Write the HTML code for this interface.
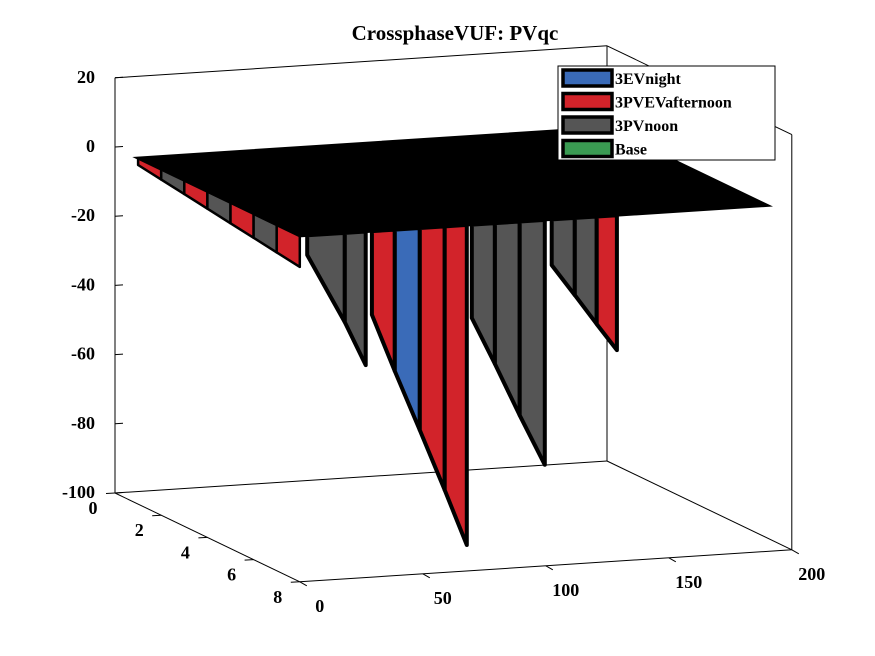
<!DOCTYPE html>
<html><head><meta charset="utf-8"><style>
html,body{margin:0;padding:0;background:#fff;}
svg{display:block;font-family:"Liberation Serif",serif;font-weight:bold;}
</style></head><body>
<svg id="chart" width="875" height="656" viewBox="0 0 875 656" xmlns="http://www.w3.org/2000/svg">
<text x="455" y="40" font-size="21" text-anchor="middle">CrossphaseVUF: PVqc</text>
<g id="box" stroke="#000" stroke-width="1" fill="none"></g>
<g id="ticks" font-size="18"></g>
<g id="marks"></g>
<g id="legend"></g>
</svg>
<script>
// ---- data ----
const zTicks = [20, 0, -20, -40, -60, -80, -100];
const xTicks = [0, 50, 100, 150, 200];
const yTicks = [0, 2, 4, 6, 8];
const seriesNames = ["3EVnight", "3PVEVafternoon", "3PVnoon", "Base"];
const seriesColors = ["#3a6bb8", "#d2232a", "#555555", "#3a9a52"];
const dipAX = [3, 18.3, 26.8];
const dipAZ = [-5.7, -25.8, -38.6];
const dipAC = [2, 2];
const dipBX = [29.3, 38.6, 48.8, 58.9, 67.9];
const dipBZ = [-24.2, -40.9, -58.4, -76.2, -92.5];
const dipBC = [1, 0, 1, 1];
const dipCX = [69.9, 79.3, 89.4, 99.6];
const dipCZ = [-27, -40.7, -56, -70.8];
const dipCC = [2, 2, 2];
const dipDX = [102.4, 111.8, 120.7, 128.9];
const dipDZ = [-13.2, -22.3, -31.1, -39];
const dipDC = [2, 2, 1];
const sideY = [1, 2, 3, 4, 5, 6, 7, 8];
const sideZ = [0, -1, -2, -3, -4, -5, -6, -7];
const sideC = [1, 2, 1, 2, 1, 2, 1];
const planeX = [0, 190];
const planeY = [1, 8];

// ---- projection ----
function P(x, y, z) {
  return [115 + 2.46 * x + 23.1 * y, 493 - 0.16 * x + 11.1 * y - 3.46 * (z + 100)];
}
const NS = "http://www.w3.org/2000/svg";
function mk(tag, attrs, parent) {
  const e = document.createElementNS(NS, tag);
  for (const k in attrs) e.setAttribute(k, attrs[k]);
  parent.appendChild(e);
  return e;
}
function pts(arr) { return arr.map(p => p[0].toFixed(1) + "," + p[1].toFixed(1)).join(" "); }

// box
const box = document.getElementById("box");
const Xmax = 200, Ymax = 8, Zmin = -100, Zmax = 20;
const edges = [
  [[0,0,Zmin],[0,0,Zmax]], [[0,0,Zmax],[Xmax,0,Zmax]], [[Xmax,0,Zmax],[Xmax,0,Zmin]],
  [[0,0,Zmin],[Xmax,0,Zmin]], [[Xmax,0,Zmin],[Xmax,Ymax,Zmin]], [[Xmax,0,Zmax],[Xmax,Ymax,Zmax]],
  [[Xmax,Ymax,Zmax],[Xmax,Ymax,Zmin]], [[0,0,Zmin],[0,Ymax,Zmin]], [[0,Ymax,Zmin],[Xmax,Ymax,Zmin]]
];
edges.forEach(e => {
  const a = P(...e[0]), b = P(...e[1]);
  const l = mk("line", {x1:a[0], y1:a[1], x2:b[0], y2:b[1]}, box);
  
  
});

// ticks
const tk = document.getElementById("ticks");
zTicks.forEach(v => {
  const p = P(0, 0, v);
  const l = mk("line", {x1:p[0], y1:p[1], x2:p[0]+8, y2:p[1]-0.5, stroke:"#000"}, tk);
  
  
  const t = mk("text", {x:p[0]-20, y:p[1]+5, "text-anchor":"end"}, tk);
  t.textContent = v;
  
  
});
xTicks.forEach(v => {
  const p = P(v, Ymax, Zmin);
  const l = mk("line", {x1:p[0], y1:p[1], x2:p[0]+7, y2:p[1]+4, stroke:"#000"}, tk);
  
  
  const t = mk("text", {x:p[0]+20, y:p[1]+30, "text-anchor":"middle"}, tk);
  t.textContent = v;
  
  
});
yTicks.forEach(v => {
  const p = P(0, v, Zmin);
  const l = mk("line", {x1:p[0], y1:p[1], x2:p[0]-9, y2:p[1]+0.5, stroke:"#000"}, tk);
  
  
  const t = mk("text", {x:p[0]-22, y:p[1]+21, "text-anchor":"middle"}, tk);
  t.textContent = v;
  
  
});

// surface
const mg = document.getElementById("marks");
// side band under plane left edge
for (let i = 0; i < sideY.length - 1; i++) {
  const poly = [P(0, sideY[i], 0), P(0, sideY[i+1], 0), P(0, sideY[i+1], sideZ[i+1] - 2), P(0, sideY[i], sideZ[i] - 2)];
  const e = mk("polygon", {points: pts(poly), fill: seriesColors[sideC[i]], stroke:"#000", "stroke-width":2.5, "stroke-linejoin":"round"}, mg);
  
  
}
function drawDip(xs, zs, cs, name) {
  for (let i = 0; i < xs.length - 1; i++) {
    const poly = [P(xs[i], Ymax, 0), P(xs[i+1], Ymax, 0), P(xs[i+1], Ymax, zs[i+1]), P(xs[i], Ymax, zs[i])];
    const e = mk("polygon", {points: pts(poly), fill: seriesColors[cs[i]], stroke:"#000", "stroke-width":4, "stroke-linejoin":"round"}, mg);
    
    
  }
}
drawDip(dipAX, dipAZ, dipAC, 'dip-a-strip');
drawDip(dipBX, dipBZ, dipBC, 'dip-b-strip');
drawDip(dipCX, dipCZ, dipCC, 'dip-c-strip');
drawDip(dipDX, dipDZ, dipDC, 'dip-d-strip');
// black plane
const plane = [P(planeX[0], planeY[0], 0), P(planeX[1], planeY[0], 0), P(planeX[1], planeY[1], 0), P(planeX[0], planeY[1], 0)];
const pl = mk("polygon", {points: pts(plane), fill:"#000", stroke:"#000", "stroke-width":3}, mg);



// legend
const lg = document.getElementById("legend");
const lb = mk("rect", {x:558, y:66, width:217, height:94, fill:"#fff", stroke:"#000", "stroke-width":1}, lg);


seriesNames.forEach((n, i) => {
  const y = 78 + i * 23.5;
  const r = mk("rect", {x:563, y:y-8, width:49, height:16, fill:seriesColors[i], stroke:"#000", "stroke-width":3.5}, lg);
  
  
  const t = mk("text", {x:615, y:y+6, "font-size":16}, lg);
  t.textContent = n;
  
  
});
</script>
</body></html>
